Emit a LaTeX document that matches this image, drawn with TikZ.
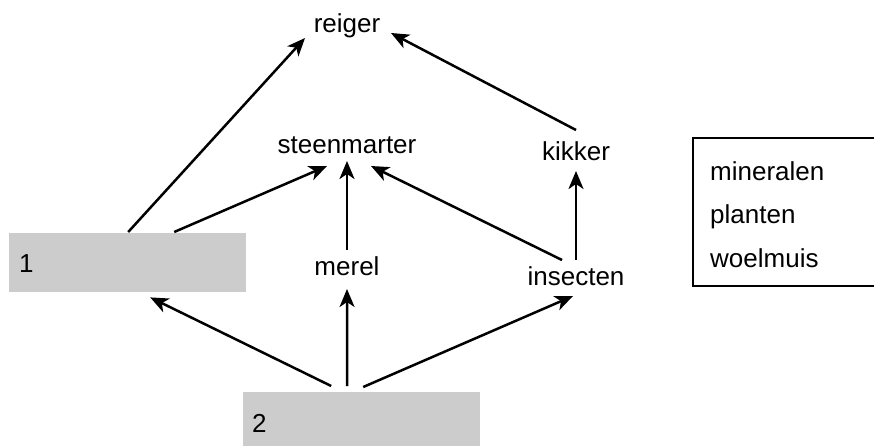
\documentclass[tikz,border=0pt]{standalone}
\usepackage{fontspec}
\setmainfont{Liberation Sans}
\usetikzlibrary{arrows.meta,calc}
\begin{document}
\begin{tikzpicture}[x=1pt,y=-1pt,
  txt/.style={inner sep=0pt,font=\fontsize{26}{30}\selectfont},
  gbox/.style={fill=gray!40,draw=none,inner sep=0pt,anchor=north west,minimum width=237pt},
  arr/.style={line width=2.5pt,-{Stealth[length=18pt,width=15pt,inset=5pt]}},
  frame/.style={line width=1.5pt}]
\useasboundingbox (0,0) rectangle (874,445);
% grey boxes
\node[gbox,minimum height=59pt] (b1) at (9,233) {};
\node[gbox,minimum height=60pt] (b2) at (243,392) {};
\node[txt,anchor=base west] (l1) at (19,272) {1};
\node[txt,anchor=base west] (l2) at (252,432) {2};
% organisms
\node[txt,anchor=base] (reiger) at (347,32) {reiger};
\node[txt,anchor=base] (steen) at (347,153) {steenmarter};
\node[txt,anchor=base] (kikker) at (576,160) {kikker};
\node[txt,anchor=base] (merel) at (347,275) {merel};
\node[txt,anchor=base] (insect) at (576,285) {insecten};
% legend box
\coordinate (ftr) at (880,138);
\coordinate (ftl) at (693,138);
\coordinate (fbl) at (693,286);
\coordinate (fbr) at (880,286);
\draw[frame] (ftr) -- (ftl) -- (fbl) -- (fbr);
\node[txt,anchor=base west] (min) at (710,180) {mineralen};
\node[txt,anchor=base west] (pla) at (710,223.5) {planten};
\node[txt,anchor=base west] (woe) at (710,267) {woelmuis};
% arrows
\draw[arr] ($(b1.north)+(0.5,-1)$) -- ($(reiger.base)+(-42,6)$);
\draw[arr] ($(b1.north)+(46.5,-1)$) -- ($(steen.base)+(-20,13)$);
\draw[arr] ($(merel.base)+(0,-25)$) -- ($(steen.base)+(0,8)$);
\draw[arr] ($(insect.base)+(-14,-25)$) -- ($(steen.base)+(24,13)$);
\draw[arr] ($(insect.base)+(0,-25)$) -- ($(kikker.base)+(0,11)$);
\draw[arr] ($(kikker.base)+(0,-30)$) -- ($(reiger.base)+(44,1)$);
\draw[arr] ($(b2.north)+(-30.5,-6)$) -- ($(b1.south)+(22.5,5)$);
\draw[arr] ($(b2.north)+(-14.5,-6)$) -- ($(merel.base)+(0,14)$);
\draw[arr] ($(b2.north)+(1.5,-5)$) -- ($(insect.base)+(-3,11)$);
\end{tikzpicture}
\end{document}
